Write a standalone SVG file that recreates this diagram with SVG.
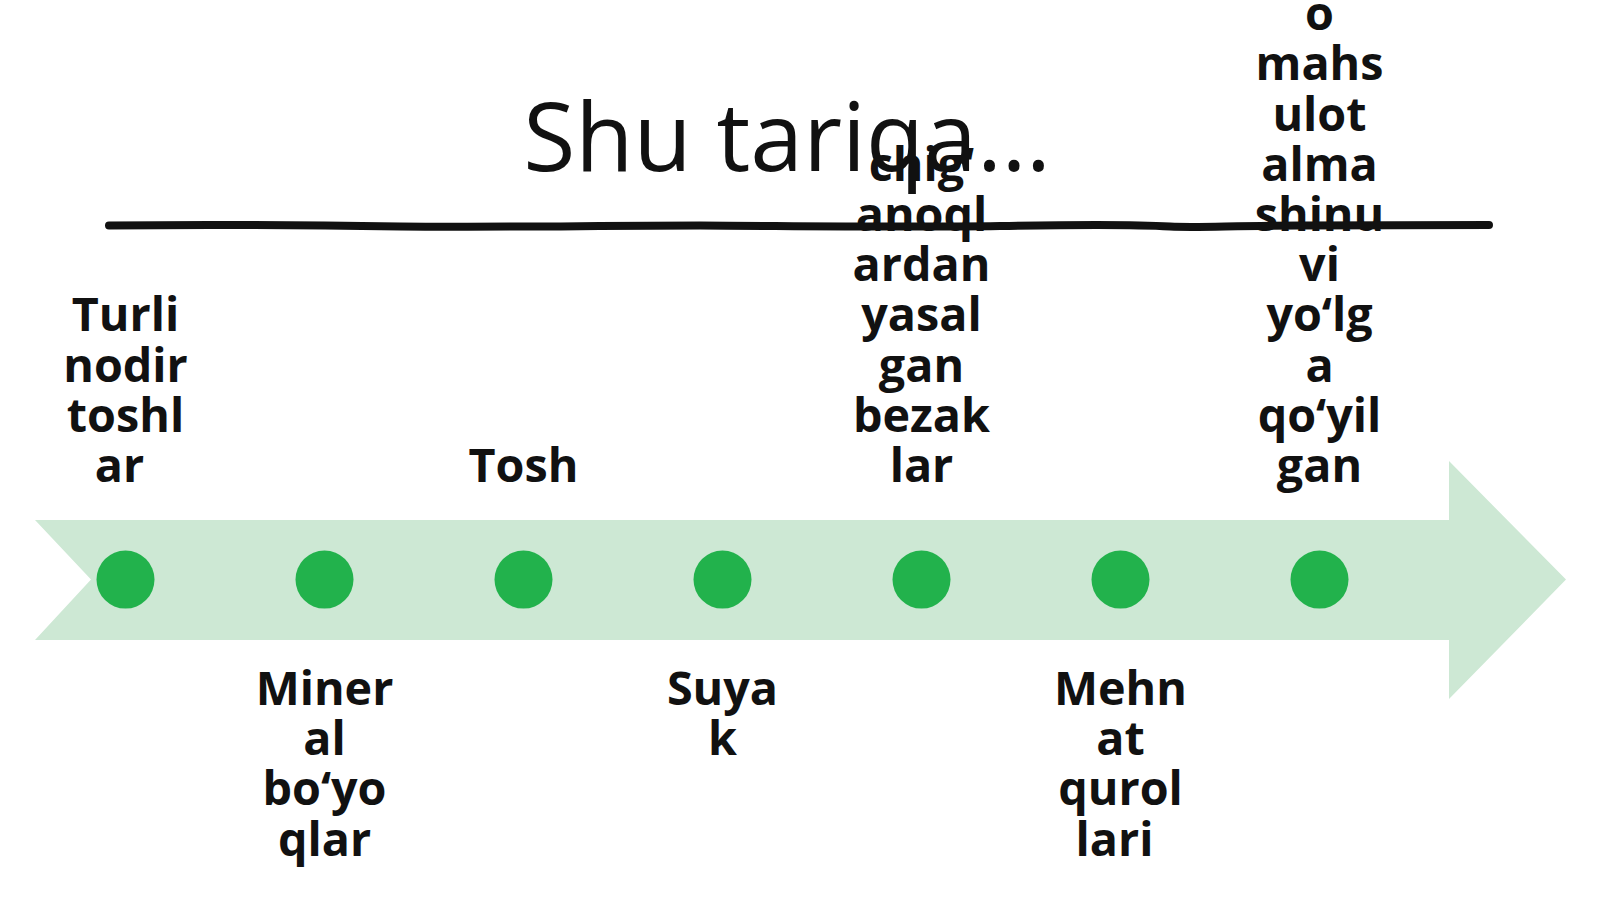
<svg xmlns="http://www.w3.org/2000/svg" width="1600" height="899" viewBox="0 0 1600 899">
<style>
.lbl{font-family:"Open Sans","Noto Sans","Liberation Sans",sans-serif;font-weight:700;font-size:46.7px;fill:#111;text-anchor:middle}
.title{font-family:"Open Sans","Noto Sans","Liberation Sans",sans-serif;font-weight:400;font-size:95px;fill:#111;text-anchor:middle}
.dot{fill:#22b24c}
</style>
<rect width="1600" height="899" fill="#fff"/>
<g id="arrow">
<path d="M35 520 L1449 520 L1449 461 L1566 579.6 L1449 699 L1449 640 L35 640 L91 579.6 Z" fill="#cde8d4"/>
</g>
<g id="title"><text class="title" x="787" y="171">Shu tariqa…</text></g>
<g id="n1"><circle class="dot" cx="125.5" cy="579.6" r="29"/>
<text class="lbl" x="125.5" y="331.4">Turli</text><text class="lbl" x="125.5" y="381.6">nodir</text><text class="lbl" x="125.5" y="431.8">toshl</text><text class="lbl" x="119.5" y="482">ar</text></g>
<g id="n2"><circle class="dot" cx="324.5" cy="579.6" r="29"/>
<text class="lbl" x="324.5" y="705">Miner</text><text class="lbl" x="324.5" y="755.2">al</text><text class="lbl" x="324.5" y="805.4">bo‘yo</text><text class="lbl" x="324.5" y="855.6">qlar</text></g>
<g id="n3"><circle class="dot" cx="523.5" cy="579.6" r="29"/>
<text class="lbl" x="523.5" y="482">Tosh</text></g>
<g id="n4"><circle class="dot" cx="722.5" cy="579.6" r="29"/>
<text class="lbl" x="722.5" y="705">Suya</text><text class="lbl" x="722.5" y="755.2">k</text></g>
<g id="n5"><circle class="dot" cx="921.5" cy="579.6" r="29"/>
<text class="lbl" x="921.5" y="180.8">chig‘</text><text class="lbl" x="921.5" y="231">anoql</text><text class="lbl" x="921.5" y="281.2">ardan</text><text class="lbl" x="921.5" y="331.4">yasal</text><text class="lbl" x="921.5" y="381.6">gan</text><text class="lbl" x="921.5" y="431.8">bezak</text><text class="lbl" x="921.5" y="482">lar</text></g>
<g id="n6"><circle class="dot" cx="1120.5" cy="579.6" r="29"/>
<text class="lbl" x="1120.5" y="705">Mehn</text><text class="lbl" x="1120.5" y="755.2">at</text><text class="lbl" x="1120.5" y="805.4">qurol</text><text class="lbl" x="1114.5" y="855.6">lari</text></g>
<g id="n7"><circle class="dot" cx="1319.5" cy="579.6" r="29"/>
<text class="lbl" x="1319.5" y="30.2">o</text><text class="lbl" x="1319.5" y="80.4">mahs</text><text class="lbl" x="1319.5" y="130.6">ulot</text><text class="lbl" x="1319.5" y="180.8">alma</text><text class="lbl" x="1319.5" y="231">shinu</text><text class="lbl" x="1319.5" y="281.2">vi</text><text class="lbl" x="1319.5" y="331.4">yo‘lg</text><text class="lbl" x="1319.5" y="381.6">a</text><text class="lbl" x="1319.5" y="431.8">qo‘yil</text><text class="lbl" x="1319.5" y="482">gan</text></g>
<g id="connectors">
<path d="M109 225.5 C200 224.5 300 225 400 226.5 C500 227.5 600 225.5 700 225.5 C800 226 900 227.5 1000 226 C1080 224.5 1130 224 1170 226.5 C1200 228 1230 225.5 1300 225.5 C1400 225 1460 225 1489 225" fill="none" stroke="#111" stroke-width="8" stroke-linecap="round"/>
</g>
</svg>
